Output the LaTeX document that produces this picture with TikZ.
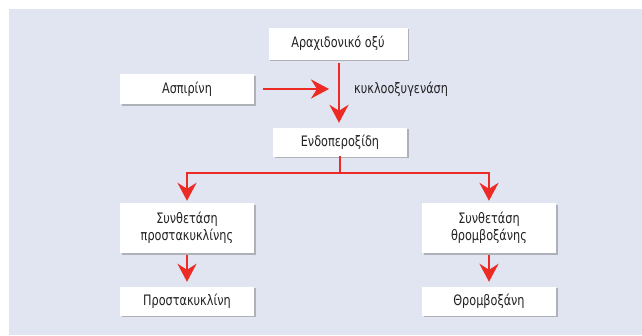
\documentclass[tikz,border=0pt]{standalone}
\usepackage{fontspec}
\setmainfont[FakeStretch=0.87]{DejaVu Sans Condensed}
\usetikzlibrary{arrows.meta,shadows,calc}
\definecolor{panel}{HTML}{E1E4F1}
\definecolor{flow}{HTML}{EC2B24}
\definecolor{ink}{HTML}{222222}
\tikzset{
  box/.style={fill=white, draw=none, minimum width=134pt, minimum height=30pt,
    inner sep=0pt, align=center, text=ink, font=\fontsize{14.4}{17}\selectfont,
    drop shadow={shadow xshift=1.6pt, shadow yshift=-1.6pt, fill=black!55, opacity=0.45}},
  flowline/.style={draw=flow, line width=2.4pt},
  arr/.style={flowline, -{Stealth[length=18pt, width=19pt, inset=6pt]}},
  lbl/.style={text=ink, font=\fontsize{14.4}{17}\selectfont, inner sep=0pt}
}
\begin{document}
\begin{tikzpicture}[x=1pt, y=-1pt]
  % canvas and panel
  \fill[white] (0,0) rectangle (642,335);
  \useasboundingbox (0,0) rectangle (642,335);
  \fill[panel] (9,9) rectangle (642,335);

  % boxes
  \node[box, minimum width=139pt, minimum height=32pt] (acid) at (338,43.5) {Αραχιδονικό οξύ};
  \node[box] (asp) at (187,89) {Ασπιρίνη};
  \node[box, minimum height=29pt] (endo) at (340,142) {Ενδοπεροξίδη};
  \node[box, minimum height=50pt] (psyn) at (187,228) {Συνθετάση\\προστακυκλίνης};
  \node[box, minimum height=50pt] (tsyn) at (489,228) {Συνθετάση\\θρομβοξάνης};
  \node[box, minimum height=29pt] (pgi) at (187,301) {Προστακυκλίνη};
  \node[box, minimum height=29pt] (txa) at (489,301) {Θρομβοξάνη};

  % label beside the main arrow
  \node[lbl, anchor=west] (cox) at (354,89) {κυκλοοξυγενάση};

  % free ends and junctions
  \coordinate (aspend) at (329,89);
  \coordinate (split) at (340,173);
  \coordinate (lturn) at (187,173);
  \coordinate (rturn) at (489,173);

  % arrows (shifts are in page direction: positive yshift is upward)
  \draw[arr] ([xshift=9pt]asp.east) -- (aspend);
  \draw[arr] ([xshift=1pt,yshift=-3.5pt]acid.south) -- ([xshift=-1pt,yshift=4.5pt]endo.north);
  \draw[flowline] ([yshift=1pt]endo.south) -- (split);
  \draw[arr] (split) -- (lturn) -- ([yshift=2pt]psyn.north);
  \draw[arr] (split) -- (rturn) -- ([yshift=2pt]tsyn.north);
  \draw[arr] ([yshift=-2pt]psyn.south) -- ([yshift=4.5pt]pgi.north);
  \draw[arr] ([yshift=-2pt]tsyn.south) -- ([yshift=4.5pt]txa.north);
\end{tikzpicture}
\end{document}
